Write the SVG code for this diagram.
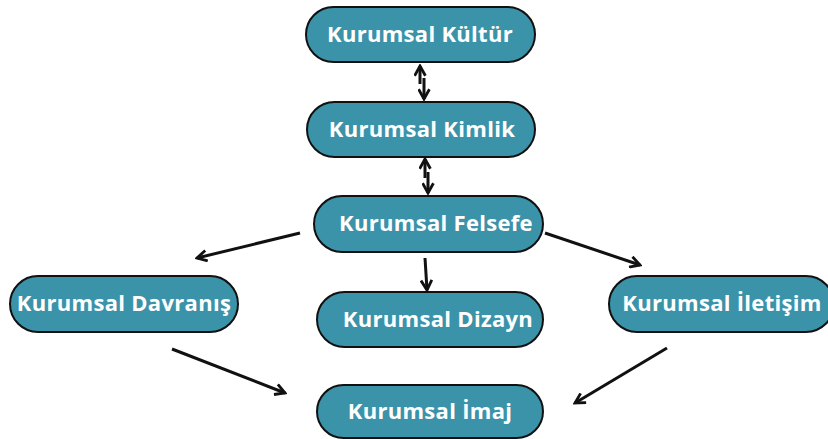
<svg xmlns="http://www.w3.org/2000/svg" width="828" height="439" viewBox="0 0 828 439">
<defs>
<style>
.n{fill:#3b93aa;stroke:#111;stroke-width:2}
.t{fill:#fff;font-family:"Open Sans","Noto Sans",sans-serif;font-weight:bold;font-size:22px;letter-spacing:0.3px;text-anchor:middle}
.c{stroke:#111;stroke-width:3;fill:none}
</style>
<marker id="ah" viewBox="0 0 12 12" refX="10" refY="6" markerWidth="13" markerHeight="13" markerUnits="userSpaceOnUse" orient="auto">
<path d="M1,1 L10,6 L1,11" fill="none" stroke="#111" stroke-width="2.6"/>
</marker>
</defs>
<rect width="828" height="439" fill="#fff"/>
<g id="kultur"><rect class="n" x="306" y="7" width="229" height="55" rx="27.5"/><text class="t" x="420" y="42">Kurumsal Kültür</text></g>
<g id="kimlik"><rect class="n" x="307" y="102" width="228" height="55" rx="27.5"/><text class="t" x="422" y="137">Kurumsal Kimlik</text></g>
<g id="felsefe"><rect class="n" x="314" y="196" width="229" height="56" rx="28"/><text class="t" x="436" y="231">Kurumsal Felsefe</text></g>
<g id="davranis"><rect class="n" x="10" y="276" width="228" height="56" rx="28"/><text class="t" x="124" y="311">Kurumsal Davranış</text></g>
<g id="dizayn"><rect class="n" x="317" y="292" width="226" height="55" rx="27.5"/><text class="t" x="438" y="327">Kurumsal Dizayn</text></g>
<g id="iletisim"><rect class="n" x="609" y="276" width="225" height="56" rx="28"/><text class="t" x="722" y="311">Kurumsal İletişim</text></g>
<g id="imaj"><rect class="n" x="317" y="385" width="226" height="53" rx="26.5"/><text class="t" x="430" y="419">Kurumsal İmaj</text></g>
<g id="connectors">
<line class="c" x1="420" y1="84" x2="420" y2="66" marker-end="url(#ah)"/>
<line class="c" x1="424" y1="78" x2="424" y2="99" marker-end="url(#ah)"/>
<line class="c" x1="425" y1="178" x2="425" y2="159" marker-end="url(#ah)"/>
<line class="c" x1="428" y1="172" x2="428" y2="193" marker-end="url(#ah)"/>
<line class="c" x1="300" y1="233" x2="197" y2="258" marker-end="url(#ah)"/>
<line class="c" x1="545" y1="233" x2="640" y2="265" marker-end="url(#ah)"/>
<line class="c" x1="425" y1="258" x2="427" y2="290" marker-end="url(#ah)"/>
<line class="c" x1="172" y1="349" x2="285" y2="393" marker-end="url(#ah)"/>
<line class="c" x1="667" y1="348" x2="575" y2="403" marker-end="url(#ah)"/>
</g>
</svg>
